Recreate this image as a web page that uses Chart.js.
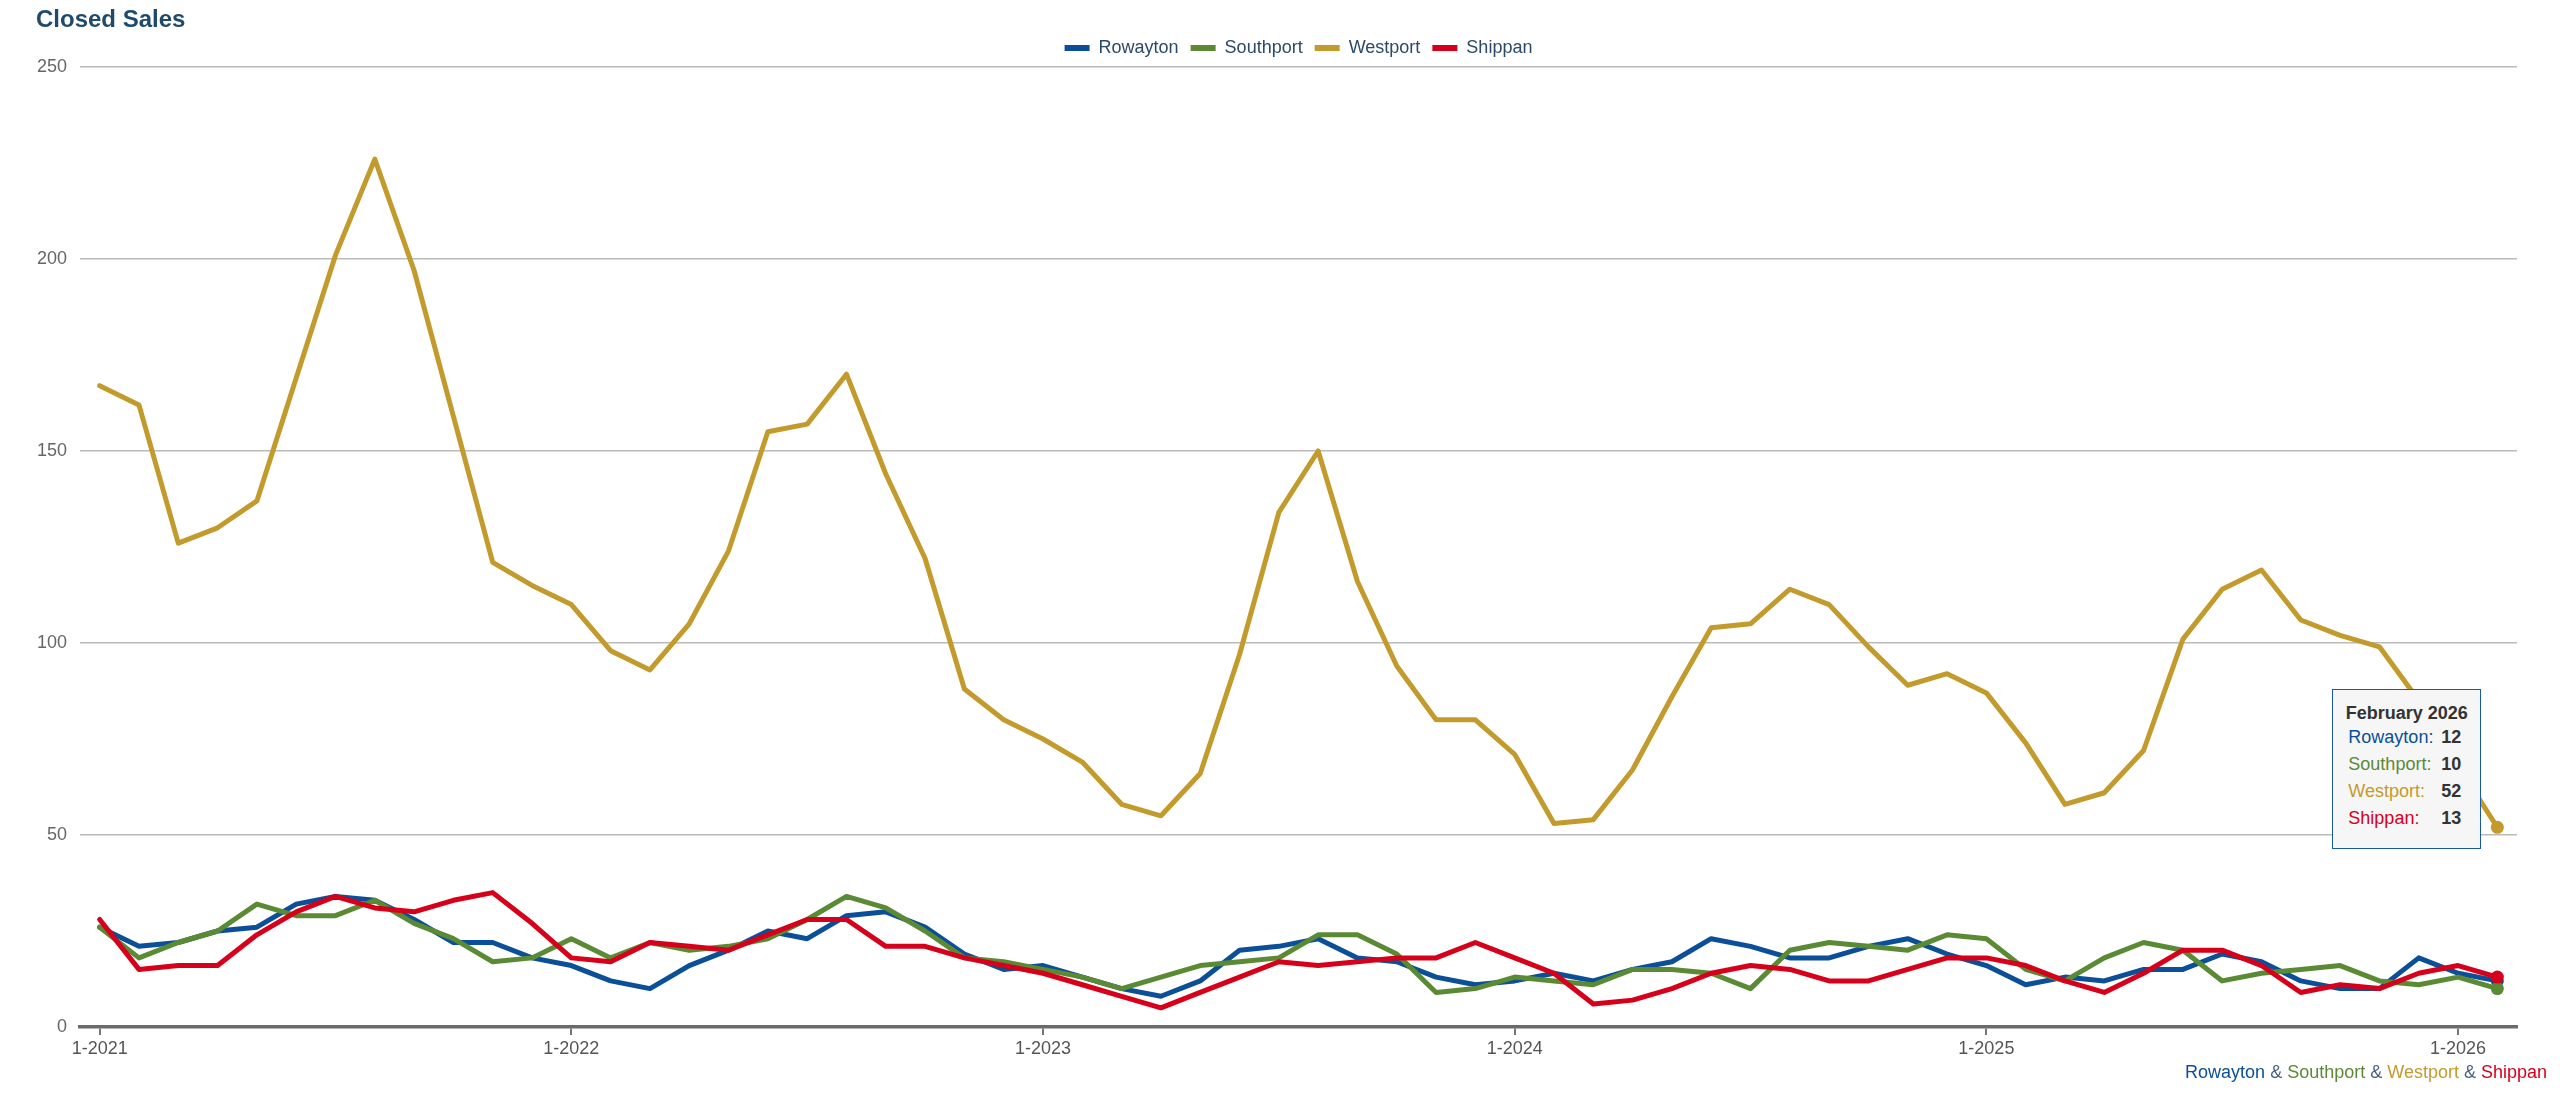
<!DOCTYPE html>
<html>
<head>
<meta charset="utf-8">
<script src="https://cdn.jsdelivr.net/npm/chart.js@4/dist/chart.umd.min.js"></script>
<style>
  html, body { margin: 0; padding: 0; background: #ffffff; }
  #wrap { position: relative; width: 2560px; height: 1097px; overflow: hidden; }
  canvas { display: block; }
  #tip {
    position: absolute; box-sizing: border-box; width: 149px; height: 160px;
    border: 1.5px solid #1a5aa5; background: #f6f6f6;
    font-family: "Liberation Sans", Arial, sans-serif; font-size: 18px; color: #333;
  }
  #tip .t { position: absolute; left: 0; right: 0; top: 10px; line-height: 26px; text-align: center; font-weight: bold; color: #333; }
  #tip .r { position: absolute; left: 15px; right: 0; line-height: 27px; white-space: nowrap; }
  #tip .r b { position: absolute; left: 93px; color: #333; }
  #credit {
    position: absolute; right: 13px; top: 1062px; white-space: nowrap;
    font-family: "Liberation Sans", Arial, sans-serif; font-size: 18px; line-height: 21px;
  }
</style>
</head>
<body>
<div id="wrap">
  <canvas id="c" width="2560" height="1097"></canvas>
  <div id="tip"></div>
  <div id="credit"></div>
</div>
<script>
const categories = [
  "1-2021","2-2021","3-2021","4-2021","5-2021","6-2021","7-2021","8-2021","9-2021","10-2021","11-2021","12-2021",
  "1-2022","2-2022","3-2022","4-2022","5-2022","6-2022","7-2022","8-2022","9-2022","10-2022","11-2022","12-2022",
  "1-2023","2-2023","3-2023","4-2023","5-2023","6-2023","7-2023","8-2023","9-2023","10-2023","11-2023","12-2023",
  "1-2024","2-2024","3-2024","4-2024","5-2024","6-2024","7-2024","8-2024","9-2024","10-2024","11-2024","12-2024",
  "1-2025","2-2025","3-2025","4-2025","5-2025","6-2025","7-2025","8-2025","9-2025","10-2025","11-2025","12-2025",
  "1-2026","2-2026"
];
const monthNames = ["January","February","March","April","May","June","July","August","September","October","November","December"];

const rowayton = [
  26,21,22,25,26,32,34,33,28,22,
  22,18,16,12,10,16,20,25,23,29,
  30,26,19,15,16,13,10,8,12,20,
  21,23,18,17,13,11,12,14,12,15,
  17,23,21,18,18,21,23,19,16,11,
  13,12,15,15,19,17,12,10,10,18,
  14,12
];
const southport = [
  26,18,22,25,32,29,29,33,27,23,
  17,18,23,18,22,20,21,23,28,34,
  31,25,18,17,15,13,10,13,16,17,
  18,24,24,19,9,10,13,12,11,15,
  15,14,10,20,22,21,20,24,23,15,
  12,18,22,20,12,14,15,16,12,11,
  13,10
];
const westport = [
  167,162,126,130,137,169,201,226,197,159,
  121,115,110,98,93,105,124,155,157,170,
  144,122,88,80,75,69,58,55,66,97,
  134,150,116,94,80,80,71,53,54,67,
  86,104,105,114,110,99,89,92,87,74,
  58,61,72,101,114,119,106,102,99,85,
  68,52
];
const shippan = [
  28,15,16,16,24,30,34,31,30,33,
  35,27,18,17,22,21,20,24,28,28,
  21,21,18,16,14,11,8,5,9,13,
  17,16,17,18,18,22,18,14,6,7,
  10,14,16,15,12,12,15,18,18,16,
  12,9,14,20,20,16,9,11,10,14,
  16,13
];
const seriesNames = ["Rowayton", "Southport", "Westport", "Shippan"];
const seriesData = [rowayton, southport, westport, shippan];
const seriesColors = ["#0a4f97", "#5b8a35", "#c39b2d", "#d7001b"];
const yTicks = [0, 50, 100, 150, 200, 250];

const FONT = '"Liberation Sans", Arial, sans-serif';
const last = categories.length - 1;

const legendSpacer = {
  id: 'legendSpacer',
  beforeInit(chart) {
    const lg = chart.legend;
    if (!lg) return;
    const orig = lg.fit;
    lg.fit = function () { orig.call(this); this.height += 0; };
  }
};

const datasets = seriesNames.map((name, i) => ({
  label: name,
  data: seriesData[i],
  borderColor: seriesColors[i],
  backgroundColor: seriesColors[i],
  borderWidth: 5,
  tension: 0,
  borderJoinStyle: 'round',
  borderCapStyle: 'round',
  pointRadius: (ctx) => ctx.dataIndex === last ? 6.5 : 0,
  pointHoverRadius: (ctx) => ctx.dataIndex === last ? 6.5 : 0,
  pointBackgroundColor: seriesColors[i],
  pointBorderWidth: 0,
  order: 4 - i
}));

const chart = new Chart(document.getElementById('c'), {
  type: 'line',
  data: { labels: categories, datasets },
  plugins: [legendSpacer],
  options: {
    responsive: false,
    devicePixelRatio: 1,
    animation: false,
    events: [],
    layout: { padding: { left: 36, right: 43, top: 0, bottom: 20 } },
    plugins: {
      tooltip: { enabled: false },
      title: {
        display: true, text: 'Closed Sales', align: 'start', color: '#1f4a6b',
        font: { family: FONT, size: 24, weight: 'bold', lineHeight: 0.75 },
        padding: { top: 11, bottom: -2 }
      },
      legend: {
        display: true, position: 'top', fullSize: false,
        labels: {
          boxWidth: 25, boxHeight: 6, padding: 12, color: '#2b4a67',
          font: { family: FONT, size: 18 },
          sort: (a, b) => a.datasetIndex - b.datasetIndex,
          generateLabels: (ch) => Chart.defaults.plugins.legend.labels.generateLabels(ch)
            .map(l => Object.assign(l, { lineWidth: 0, fillStyle: seriesColors[l.datasetIndex], strokeStyle: seriesColors[l.datasetIndex] }))
        }
      }
    },
    scales: {
      x: {
        type: 'category',
        offset: true,
        grid: {
          drawOnChartArea: false, drawTicks: true, tickLength: 8, lineWidth: 2,
          color: (ctx) => (ctx.index % 12 === 0) ? '#777777' : 'rgba(0,0,0,0)'
        },
        border: { display: true, color: '#6b6b6b', width: 3.5 },
        ticks: {
          autoSkip: false, maxRotation: 0, minRotation: 0, padding: 3, color: '#555555',
          font: { family: FONT, size: 18 },
          callback: (v, i) => (i % 12 === 0) ? categories[i] : ''
        },
        afterFit: (s) => { s.height = 50; }
      },
      y: {
        min: yTicks[0], max: yTicks[yTicks.length - 1],
        afterBuildTicks: (s) => { s.ticks = yTicks.map(v => ({ value: v })); },
        grid: { color: '#bbbbbb', lineWidth: 1.5, drawTicks: false },
        border: { display: false },
        ticks: { color: '#666666', padding: 13, font: { family: FONT, size: 18 } },
        afterFit: (s) => { s.width = 44; }
      }
    }
  }
});

// HTML tooltip for the last month
(function () {
  const parts = categories[last].split('-');
  const title = monthNames[parseInt(parts[0], 10) - 1] + ' ' + parts[1];
  const tip = document.getElementById('tip');
  let html = '<div class="t">' + title + '</div>';
  const rowTops = [34, 61, 88, 115];
  seriesNames.forEach((n, i) => {
    html += '<div class="r" style="top:' + rowTops[i] + 'px;color:' + seriesColors[i] + '">' + n + ':<b>' + seriesData[i][last] + '</b></div>';
  });
  tip.innerHTML = html;
  const px = chart.scales.x.getPixelForValue(last);
  const py = chart.scales.y.getPixelForValue(westport[last]);
  tip.style.left = (px - 16 - 149) + 'px';
  tip.style.top = (py - 138) + 'px';

  const credit = document.getElementById('credit');
  credit.innerHTML = seriesNames.map((n, i) => '<span style="color:' + seriesColors[i] + '">' + n + '</span>')
    .join('<span style="color:#44607e"> &amp; </span>');
})();
</script>
</body>
</html>
